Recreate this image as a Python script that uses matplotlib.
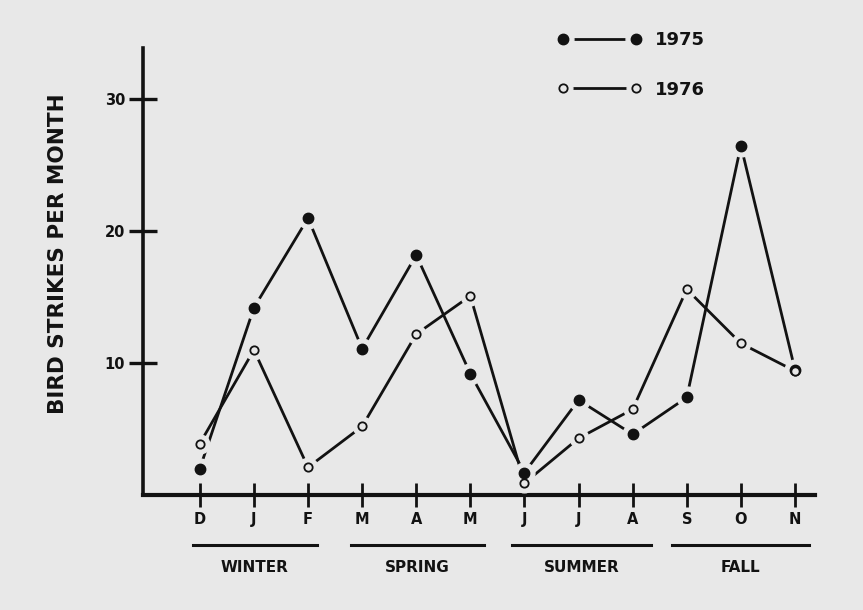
import matplotlib
matplotlib.use('Agg')
import matplotlib.pyplot as plt
import matplotlib.transforms as mtransforms
from matplotlib.legend_handler import HandlerTuple

# ---- data ----
months = ['D', 'J', 'F', 'M', 'A', 'M', 'J', 'J', 'A', 'S', 'O', 'N']
strikes_1975 = [2.0, 14.2, 21.0, 11.1, 18.2, 9.2, 1.7, 7.2, 4.6, 7.4, 26.5, 9.5]
strikes_1976 = [3.9, 11.0, 2.1, 5.2, 12.2, 15.1, 0.9, 4.3, 6.5, 15.6, 11.5, 9.4]
seasons = ['WINTER', 'SPRING', 'SUMMER', 'FALL']
season_spans = [(-0.13, 2.16), (2.79, 5.25), (5.77, 8.34), (8.72, 11.26)]
y_ticks = [10, 20, 30]
y_label = 'BIRD STRIKES PER MONTH'
series_labels = ['1975', '1976']

BG = '#e8e8e8'
INK = '#121212'
FONT = 'DejaVu Sans'

fig = plt.figure(figsize=(8.63, 6.10), dpi=100, facecolor=BG)
ax = fig.add_axes([143 / 863, 1 - 495 / 610, (815 - 143) / 863, (495 - 48) / 610])
ax.set_facecolor(BG)

x = list(range(len(months)))
ax.set_xlim(-1.05, 11.37)
ax.set_ylim(0, 33.9)

# lines
l75, = ax.plot(x, strikes_1975, color=INK, lw=2.0, zorder=3)
l76, = ax.plot(x, strikes_1976, color=INK, lw=2.0, zorder=3)
# halos (gap between line and marker)
h75, = ax.plot(x, strikes_1975, ls='none', marker='o', ms=15, mfc=BG, mec=BG, zorder=4)
h76, = ax.plot(x, strikes_1976, ls='none', marker='o', ms=13.5, mfc=BG, mec=BG, zorder=4)
# markers
m75, = ax.plot(x, strikes_1975, ls='none', marker='o', ms=7.5, mfc=INK, mec=INK, zorder=5)
m76, = ax.plot(x, strikes_1976, ls='none', marker='o', ms=6, mfc=BG, mec=INK, mew=1.3, zorder=5)

# spines
for s in ['top', 'right']:
    ax.spines[s].set_visible(False)
ax.spines['left'].set_linewidth(2.6)
ax.spines['bottom'].set_linewidth(3.0)
ax.spines['left'].set_color(INK)
ax.spines['bottom'].set_color(INK)

ax.set_yticks(y_ticks)
ax.set_yticklabels([str(v) for v in y_ticks])
ax.set_xticks(x)
ax.set_xticklabels(months)
ax.tick_params(axis='y', direction='inout', length=20, width=2.4, color=INK,
               labelsize=10.5, pad=3, labelcolor=INK)
ax.tick_params(axis='x', direction='inout', length=17, width=2.0, color=INK,
               labelsize=10.5, pad=4, labelcolor=INK)
for lab in ax.get_xticklabels() + ax.get_yticklabels():
    lab.set_fontweight('bold')
    lab.set_family(FONT)

# y label
fig.text(58 / 863, 1 - 254 / 610, y_label, rotation=90, ha='center', va='center',
         fontsize=15.5, fontweight='bold', family=FONT, color=INK)

# seasons
trans = mtransforms.blended_transform_factory(ax.transData, ax.transAxes)
for name, (a, b) in zip(seasons, season_spans):
    ax.plot([a, b], [-0.112, -0.112], transform=trans, clip_on=False, color=INK, lw=2.2)
    ax.text((a + b) / 2, -0.162, name, transform=trans, ha='center', va='center',
            fontsize=11, fontweight='bold', family=FONT, color=INK)

# legend
leg = fig.legend(handles=[(l75, h75, m75), (l76, h76, m76)], labels=series_labels,
                 numpoints=2, handler_map={tuple: HandlerTuple(ndivide=1)},
                 frameon=False, handlelength=4.64, handletextpad=0.75, labelspacing=1.75,
                 borderpad=0, borderaxespad=0, loc='upper left',
                 bbox_to_anchor=(557.5 / 863, 1 - 31 / 610),
                 prop={'family': FONT, 'weight': 'bold', 'size': 13})
for t in leg.get_texts():
    t.set_color(INK)

fig.savefig('out.png', dpi=100, facecolor=BG)
